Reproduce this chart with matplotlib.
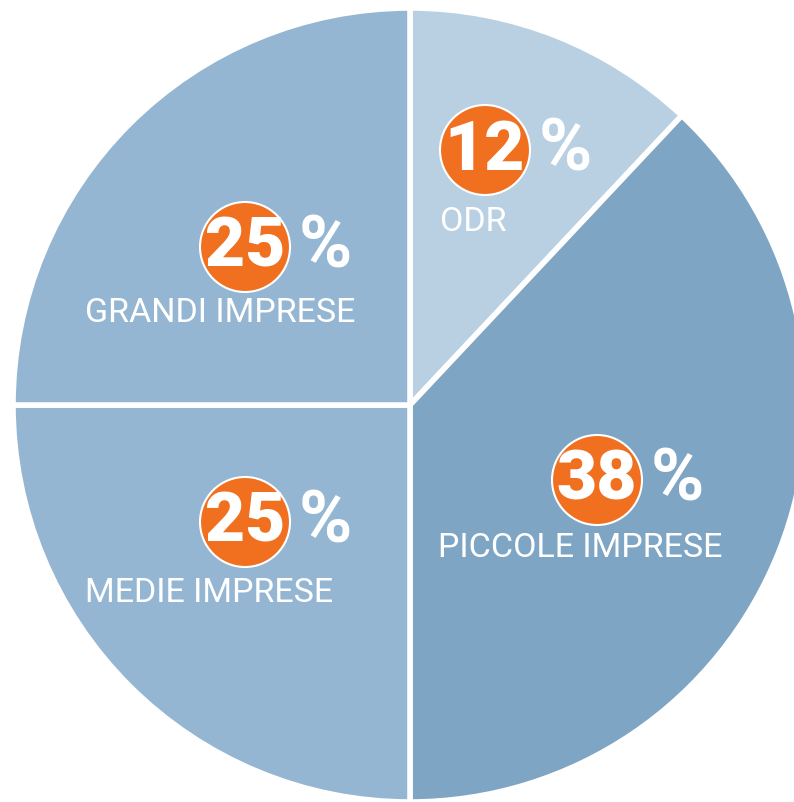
import matplotlib
matplotlib.use("Agg")
import matplotlib.pyplot as plt
import numpy as np

W, H = 794, 802

segments = ["ODR", "PICCOLE IMPRESE", "MEDIE IMPRESE", "GRANDI IMPRESE"]
shares = [12, 38, 25, 25]
slice_colors = ["#b9d0e2", "#7fa5c4", "#94b6d2", "#94b6d2"]

# label anchors in pixel coords (x, y from top): badge centre, label left / centre-y
badge_pos = [(485, 150), (597, 480), (245, 522), (245, 247)]
label_pos = [(440, 222), (438, 548), (85, 593), (85, 313)]

ORANGE = "#f07020"
FONT = ["Roboto", "DejaVu Sans"]

fig = plt.figure(figsize=(W / 100, H / 100), dpi=100)
ax = fig.add_axes([0, 0, 1, 1])

cx, cy, r = 410, H - 405, 397

# thin grey shadow lines along the slice borders
bounds = 90 - 360 * np.cumsum([0] + shares[:-1]) / sum(shares)
for a in bounds:
    t = np.deg2rad(a)
    ax.plot([cx - 2.5, cx - 2.5 + r * np.cos(t)], [cy + 2.5, cy + 2.5 + r * np.sin(t)],
            color="#6d7c88", lw=2, alpha=0.6, zorder=0.5, solid_capstyle="butt")

wedges, _ = ax.pie(shares, colors=slice_colors, startangle=90, counterclock=False,
                   center=(cx, cy), radius=r, frame=True,
                   wedgeprops=dict(edgecolor="white", linewidth=4, zorder=1))
ax.set_xlim(0, W)
ax.set_ylim(0, H)
ax.set_aspect("equal")
ax.axis("off")

for seg, val, (bx, by), (lx, ly) in zip(segments, shares, badge_pos, label_pos):
    by = H - by
    ly = H - ly
    circ = plt.Circle((bx, by), 45, facecolor=ORANGE, edgecolor="white", linewidth=1.5, zorder=3)
    ax.add_patch(circ)
    ax.text(bx, by - 1, str(val), ha="center", va="center", color="white",
            fontsize=50, fontweight="black", family=FONT, zorder=4)
    ax.text(bx + 80, by - 1, "%", ha="center", va="center", color="white",
            fontsize=52, fontweight="bold", family=FONT, zorder=4)
    ax.text(lx, ly, seg, ha="left", va="center", color="white",
            fontsize=24.5, family=FONT, zorder=4)

fig.savefig("out.png", dpi=100, facecolor="white")
